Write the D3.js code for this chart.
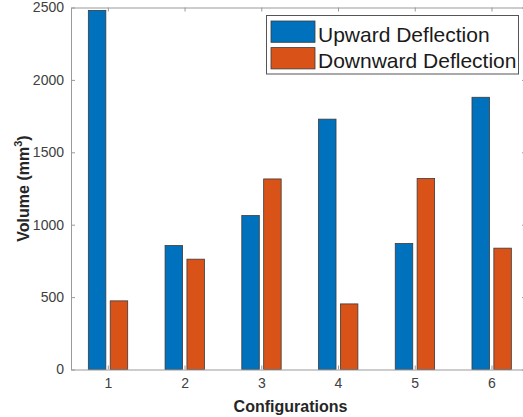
<!DOCTYPE html>
<html>
<head>
<meta charset="utf-8">
<script src="https://cdn.jsdelivr.net/npm/d3@7"></script>
<style>
    body { margin: 0; background: #fff; }
    svg { display: block; font-family: 'Liberation Sans', Arial, sans-serif; }
    .axis text { fill: #404040; font-size: 14px; }
    .axis path, .axis line { stroke: #9a9a9a; }
</style>
</head>
<body>
<svg id="chart" width="523" height="417"></svg>
<script>
var configurations = [1, 2, 3, 4, 5, 6];
var upward = [2480, 856, 1063, 1729, 870, 1880];
var downward = [474, 762, 1316, 453, 1319, 838];
var seriesNames = ['Upward Deflection', 'Downward Deflection'];
var yTicks = [0, 500, 1000, 1500, 2000, 2500];

var svg = d3.select('#chart');
var plotLeft = 71, plotRight = 526, plotTop = 7.5, plotBottom = 369.5;
var colors = ['#0072BD', '#D95319'];

var xScale = d3.scaleLinear().domain([0.52, 6.45]).range([plotLeft, plotRight]);
var yScale = d3.scaleLinear().domain([0, 2500]).range([plotBottom, plotTop]);

// bars: offset and width in category units
var barWidth = 0.228;
var offsets = [-0.14, 0.145];
var series = [upward, downward];

series.forEach(function (values, i) {
    svg.append('g')
        .selectAll('rect')
        .data(values)
        .enter()
        .append('rect')
        .attr('x', function (d, j) {
            return xScale(configurations[j] + offsets[i] - barWidth / 2);
        })
        .attr('width', xScale(barWidth) - xScale(0))
        .attr('y', function (d) {
            return yScale(d);
        })
        .attr('height', function (d) {
            return yScale(0) - yScale(d);
        })
        .attr('fill', colors[i])
        .attr('stroke', '#3a3a3a')
        .attr('stroke-width', 0.8);
});

// box axes, ticks inward like MATLAB
svg.append('g')
    .attr('class', 'axis')
    .attr('transform', 'translate(0,' + plotBottom + ')')
    .call(d3.axisBottom(xScale).tickValues(configurations).tickFormat(d3.format('d'))
        .tickSizeInner(-4).tickSizeOuter(0).tickPadding(9))
    .selectAll('text')
    .attr('dy', '0.71em');
svg.append('g')
    .attr('class', 'axis')
    .attr('transform', 'translate(0,' + plotTop + ')')
    .call(d3.axisTop(xScale).tickValues(configurations).tickSizeInner(-4).tickSizeOuter(0).tickFormat(''));
svg.append('g')
    .attr('class', 'axis')
    .attr('transform', 'translate(' + plotLeft + ',0)')
    .call(d3.axisLeft(yScale).tickValues(yTicks).tickFormat(d3.format('d'))
        .tickSizeInner(-4).tickSizeOuter(0).tickPadding(7));
svg.append('g')
    .attr('class', 'axis')
    .attr('transform', 'translate(' + plotRight + ',0)')
    .call(d3.axisRight(yScale).tickValues(yTicks).tickSizeInner(-4).tickSizeOuter(0).tickFormat(''));

// axis labels
svg.append('text')
    .attr('x', (plotLeft + plotRight) / 2 - 8)
    .attr('y', 412)
    .attr('text-anchor', 'middle')
    .attr('font-size', 16)
    .attr('font-weight', 'bold')
    .attr('fill', '#262626')
    .text('Configurations');

var yLabel = svg.append('text')
    .attr('transform', 'translate(28.5,' + ((plotTop + plotBottom) / 2) + ') rotate(-90)')
    .attr('text-anchor', 'middle')
    .attr('font-size', 16)
    .attr('font-weight', 'bold')
    .attr('fill', '#262626');
yLabel.append('tspan').text('Volume (mm');
yLabel.append('tspan').attr('font-size', 11).attr('dy', -7).text('3');
yLabel.append('tspan').attr('dy', 7).text(')');

// legend
var legend = svg.append('g');
legend.append('rect')
    .attr('x', 266.5).attr('y', 15.5)
    .attr('width', 252).attr('height', 58.5)
    .attr('fill', '#fff')
    .attr('stroke', '#555')
    .attr('stroke-width', 1);
seriesNames.forEach(function (name, i) {
    legend.append('rect')
        .attr('x', 271).attr('y', 21 + i * 26.6)
        .attr('width', 44).attr('height', 21.3)
        .attr('fill', colors[i])
        .attr('stroke', '#3a3a3a')
        .attr('stroke-width', 0.8);
    legend.append('text')
        .attr('x', 318)
        .attr('y', 41.7 + i * 26.6)
        .attr('font-size', 21)
        .attr('fill', '#1a1a1a')
        .text(name);
});
</script>
</body>
</html>
